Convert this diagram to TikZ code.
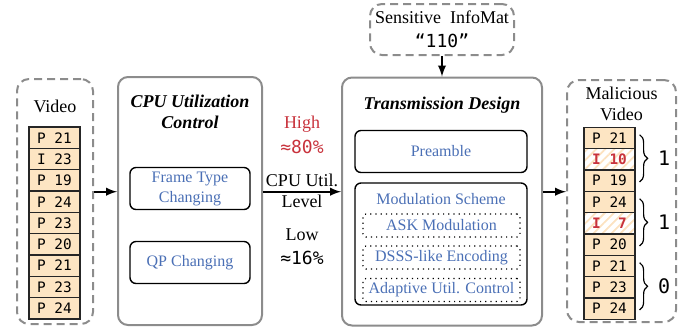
\documentclass[tikz,border=0pt]{standalone}
\usepackage{fontspec}
\setmainfont{Liberation Serif}
\newfontfamily\vidmono{DejaVu Sans Mono}
\usepackage{xcolor}
\usepackage{tikz}
\usetikzlibrary{calc}
\usetikzlibrary{arrows}
\usetikzlibrary{arrows.meta}
\usetikzlibrary{positioning}
\usetikzlibrary{patterns.meta}
\usetikzlibrary{decorations.pathreplacing}
\definecolor{peach}{HTML}{FDE5C3}
\definecolor{hatch}{HTML}{FCE2C0}
\definecolor{infoblue}{HTML}{4A6FB5}
\definecolor{alertred}{HTML}{C8323C}
\definecolor{boxgray}{HTML}{8C8C8C}
\tikzset{>=latex}
\tikzstyle{outer} = [rectangle, draw=boxgray, line width=1pt, rounded corners=5pt, inner sep=0]
\tikzstyle{dbox} = [rectangle, draw=boxgray, line width=1pt, dash pattern=on 4pt off 2.5pt, rounded corners=6pt, inner sep=0]
\tikzstyle{inner} = [rectangle, draw=black, line width=0.7pt, rounded corners=3pt, inner sep=0, text=infoblue, font=\fontsize{8}{10}\selectfont, align=center, minimum width=60pt, minimum height=21pt]
\tikzstyle{dotbox} = [rectangle, draw=black, dotted, line width=0.6pt, rounded corners=1.5pt, inner sep=0, text=infoblue, font=\fontsize{8}{10}\selectfont, minimum width=78.5pt, minimum height=11.5pt]
\tikzstyle{frm} = [rectangle, draw=black!85, line width=0.6pt, fill=peach, minimum width=25.5pt, minimum height=10.67pt, inner sep=0, font=\vidmono\fontsize{7.2}{8}\selectfont]
\tikzstyle{hfrm} = [frm, pattern={Lines[angle=45, distance=3.2pt, line width=0.9pt]}, pattern color=hatch, text=alertred, font=\vidmono\bfseries\fontsize{7.2}{8}\selectfont]
\tikzstyle{lbl} = [draw=none, inner sep=1, font=\fontsize{9}{10.5}\selectfont, align=center]
\tikzstyle{ttl} = [lbl, font=\bfseries\itshape\fontsize{9}{10.5}\selectfont]
\tikzstyle{num} = [draw=none, inner sep=1, font=\vidmono\fontsize{9}{10.5}\selectfont]
\tikzstyle{brc} = [decorate, decoration={brace, amplitude=4pt}, line width=0.6pt]

\begin{document}
\begin{tikzpicture}[x=0.5pt, y=-0.5pt]
\useasboundingbox (0,0) rectangle (687,329);
\coordinate (lvl) at (0, 191.7);
% input video
\node [dbox, minimum width=38pt, minimum height=122.5pt] (vid) at (55, 201.5) {};
\node [lbl] (vidl) at (55, 106) {Video};
\foreach \t [count=\i] in {P 21, I 23, P 19, P 24, P 23, P 20, P 21, P 23, P 24}
  \node [frm] (v\i) at (54.5, {127+21.33*(\i-0.5)}) {\t};
% cpu utilization control
\node [outer, minimum width=72pt, minimum height=124pt] (cpu) at (190, 201) {};
\node [ttl] (cpul) at (190, 112) {CPU Utilization\\Control};
\node [inner] (ftc) at (190, 188.5) {Frame Type\\Changing};
\node [inner] (qp) at (190, 262.5) {QP Changing};
% levels
\node [lbl, text=alertred] (hi) at (302, 124) {High};
\node [num, text=alertred] (hiv) at (302, 147) {≈80\%};
\node [lbl] (lo) at (302, 235) {Low};
\node [num] (lov) at (302, 258) {≈16\%};
% transmission design
\node [dbox, align=center, font=\fontsize{9}{12}\selectfont, minimum width=72pt, minimum height=25.5pt] (info) at (442, 29.5) {Sensitive~ InfoMat\\{\vidmono “110”}};
\node [outer, minimum width=100pt, minimum height=124pt] (trans) at (442, 201.5) {};
\node [ttl] (transl) at (442, 105) {Transmission Design};
\node [inner, minimum width=86pt] (pre) at (441, 151.5) {Preamble};
\node [inner, minimum width=86pt, minimum height=61pt] (mod) at (441, 244) {};
\node [draw=none, text=infoblue, font=\fontsize{8}{10}\selectfont] (modl) at (441, 199) {Modulation Scheme};
\node [dotbox] (ask) at (441.5, 225.5) {ASK Modulation};
\node [dotbox] (dsss) at (441.5, 257.5) {DSSS-like Encoding};
\node [dotbox] (adap) at (441.5, 290) {Adaptive Util. Control};
% malicious video
\node [dbox, minimum width=54.5pt, minimum height=121pt] (mal) at (621.5, 201) {};
\node [lbl] (mall) at (621.5, 103.5) {Malicious\\Video};
\foreach \t/\s [count=\i] in {P 21/frm, I 10/hfrm, P 19/frm, P 24/frm, I~~7/hfrm, P 20/frm, P 21/frm, P 23/frm, P 24/frm}
  \node [\s] (m\i) at (609.5, {127.3+21.33*(\i-0.5)}) {\t};
\draw [brc] ($(m1.north east)+(4,8)$) -- ($(m3.south east)+(4,-10)$) node [num, midway, right=8pt, font=\vidmono\fontsize{10}{12}\selectfont] (g1) {1};
\draw [brc] ($(m4.north east)+(4,8)$) -- ($(m6.south east)+(4,-10)$) node [num, midway, right=8pt, font=\vidmono\fontsize{10}{12}\selectfont] (g2) {1};
\draw [brc] ($(m7.north east)+(4,8)$) -- ($(m9.south east)+(4,-10)$) node [num, midway, right=8pt, font=\vidmono\fontsize{10}{12}\selectfont] (g3) {0};
% arrows
\draw [-latex, line width=0.9pt] (vid.east |- lvl) -- (cpu.west |- lvl);
\draw [-latex, line width=0.9pt] (cpu.east |- lvl) -- (trans.west |- lvl)
  node [lbl, midway, above=1pt] (cul) {CPU Util.}
  node [lbl, midway, below=0pt] (lev) {Level};
\draw [-latex, line width=0.9pt] (info.south) -- (trans.north);
\draw [-latex, line width=0.9pt] (trans.east |- lvl) -- (mal.west |- lvl);
\end{tikzpicture}
\end{document}
